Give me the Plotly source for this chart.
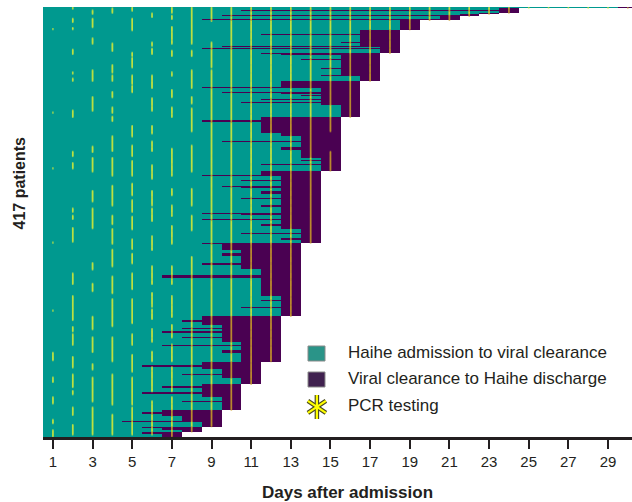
import plotly.graph_objects as go

# ---------------- data ----------------
# patients grouped by Haihe discharge day, top to bottom
discharge_day = [30, 24, 23, 22, 21, 19, 18, 17, 16, 15, 14, 13, 12, 11, 10, 9, 8, 7]
# for each discharge group: runs of (viral clearance day, number of patients), top to bottom
clearance_runs = [
    [(29, 1)],
    [(23, 2), (10, 1), (23, 2)],
    [(22, 1)],
    [(21, 1), (9, 1)],
    [(20, 3), (8, 1)],
    [(18, 9)],
    [(16, 4), (11, 1), (16, 7), (15, 1), (16, 3), (9, 1), (17, 1), (8, 1), (17, 4)],
    [(11, 1), (12, 1), (15, 3), (13, 1), (15, 8), (14, 1), (15, 6), (14, 1), (16, 5)],
    [(12, 6), (8, 1), (14, 3), (9, 1), (12, 1), (14, 1), (13, 1), (14, 3), (11, 1), (14, 2),
     (10, 1), (14, 2), (15, 12)],
    [(11, 3), (8, 2), (11, 10), (12, 3), (13, 5), (9, 1), (13, 5), (12, 3), (13, 7), (14, 2),
     (13, 1), (14, 3), (11, 1), (14, 6)],
    [(11, 4), (8, 1), (12, 4), (10, 1), (12, 5), (9, 1), (10, 1), (12, 2), (11, 3), (12, 4),
     (10, 1), (12, 6), (11, 2), (12, 6), (8, 1), (10, 1), (12, 4), (8, 1), (12, 3), (11, 2),
     (12, 3), (13, 4), (10, 1), (13, 4), (12, 2), (13, 3)],
    [(8, 1), (9, 6), (10, 3), (9, 2), (10, 7), (8, 2), (10, 4), (11, 6), (6, 3), (11, 5),
     (11, 12), (12, 4), (11, 1), (12, 6), (10, 1), (12, 8)],
    [(8, 4), (7, 1), (8, 3), (9, 3), (7, 1), (9, 2), (6, 2), (9, 4), (7, 1), (9, 4), (10, 3),
     (6, 1), (10, 4), (9, 3), (10, 8)],
    [(8, 3), (5, 2), (8, 2), (9, 5), (7, 1), (9, 3), (10, 6)],
    [(8, 2), (6, 1), (8, 4), (5, 2), (8, 3), (9, 4), (7, 1), (9, 8)],
    [(6, 2), (5, 2), (6, 2), (7, 4), (4, 1), (8, 5)],
    [(5, 1), (6, 2), (7, 2)],
    [(5, 2), (6, 3)],
]

# PCR testing: for each day, ranges of patient rows (first, last) that were tested
pcr_days = list(range(1, 31))
pcr_rows = [
    [(21, 21), (102, 102), (156, 156), (228, 228), (294, 294), (335, 342), (359, 363),
     (378, 384), (400, 403), (410, 416)],
    [(0, 1), (11, 14), (20, 21), (41, 45), (63, 64), (69, 71), (100, 106), (140, 144),
     (151, 156), (195, 198), (202, 205), (214, 227), (258, 268), (280, 303), (310, 314),
     (317, 327), (339, 349), (356, 368), (372, 375), (388, 395), (405, 414)],
    [(3, 6), (11, 19), (30, 35), (61, 71), (87, 100), (135, 140), (146, 159), (178, 188),
     (195, 205), (206, 214), (248, 254), (268, 275), (300, 312), (320, 334), (346, 351),
     (359, 382), (388, 414)],
    [(1, 5), (35, 42), (56, 63), (66, 71), (82, 87), (97, 102), (106, 110), (125, 139),
     (146, 163), (173, 192), (202, 210), (215, 229), (235, 251), (261, 277), (283, 309),
     (320, 343), (356, 385), (395, 414)],
    [(0, 3), (11, 22), (44, 47), (49, 58), (66, 74), (76, 82), (115, 125), (134, 144),
     (149, 163), (171, 182), (187, 198), (203, 215), (225, 234), (239, 248), (258, 273),
     (283, 306), (317, 327), (337, 353), (359, 385), (388, 414)],
    [(6, 9), (34, 37), (40, 45), (66, 78), (88, 100), (115, 122), (130, 139), (153, 166),
     (178, 192), (195, 207), (222, 235), (251, 268), (277, 290), (293, 302), (312, 324),
     (334, 343), (349, 372), (382, 414)],
    [(0, 5), (8, 11), (19, 35), (42, 47), (63, 66), (80, 87), (97, 106), (137, 163),
     (176, 182), (192, 202), (212, 229), (251, 268), (280, 300), (308, 320), (327, 343),
     (349, 372), (378, 416)],
    [(0, 35), (42, 47), (61, 78), (87, 93), (98, 120), (134, 159), (176, 192), (202, 216),
     (242, 411)],
    [(0, 13), (34, 58), (61, 406)],
    [(0, 390)],
    [(0, 365)],
    [(0, 343)],
    [(0, 299)],
    [(0, 228)],
    [(0, 120), (140, 158)],
    [(0, 106)],
    [(0, 71)],
    [(0, 44)],
    [(0, 21)],
    [(0, 12)],
    [(0, 12)],
    [(0, 8)],
    [(0, 6)],
    [(0, 5)],
    [(0, 0)],
    [(0, 0)],
    [(0, 0)],
    [(0, 0)],
    [(0, 0)],
    [(0, 0)],
]

x_tick_labels = [str(d) for d in range(1, 30, 2)]

# ---------------- build per-patient table ----------------
pat_clear, pat_disc = [], []
for D, runs in zip(discharge_day, clearance_runs):
    for c, n in runs:
        pat_clear += [c] * n
        pat_disc += [D] * n
n_pat = len(pat_clear)
days = list(range(1, 31))

z = []
for c, D in zip(pat_clear, pat_disc):
    z.append([1 if d <= c else (2 if d <= D else None) for d in days])

# split PCR marks into those before / after viral clearance (only for colour)
pre_x, pre_y, post_x, post_y = [], [], [], []
for d, ranges in zip(pcr_days, pcr_rows):
    for a, b in ranges:
        for r in range(a, b + 1):
            if r < n_pat and d <= pat_disc[r]:
                if d <= pat_clear[r]:
                    pre_x.append(d); pre_y.append(r)
                else:
                    post_x.append(d); post_y.append(r)

TEAL = "#00998f"
PURPLE = "#4a0152"
INK = "#231f20"
FONT = "Liberation Sans, Arial, sans-serif"
PCR_PRE = "rgba(212,234,56,0.66)"
PCR_POST = "rgba(205,160,40,0.62)"

fig = go.Figure()
fig.add_trace(go.Heatmap(
    x=days, y=list(range(n_pat)), z=z, zmin=1, zmax=2,
    colorscale=[[0, TEAL], [0.5, TEAL], [0.5, PURPLE], [1, PURPLE]],
    showscale=False, zsmooth=False, hoverinfo="skip",
))
for xs, ys, col in [(pre_x, pre_y, PCR_PRE), (post_x, post_y, PCR_POST)]:
    fig.add_trace(go.Scatter(
        x=xs, y=ys, mode="markers", hoverinfo="skip",
        marker=dict(symbol="line-ns-open", size=1.6, color=col,
                    line=dict(width=1.6, color=col)),
    ))

# legend asterisk (overlay paper-like axes)
for w, col in [(4.5, "#4a4a20"), (2.2, "#ffff00")]:
    for sym in ["y-up-open", "y-down-open"]:
        fig.add_trace(go.Scatter(
            x=[0.465], y=[0.07], xaxis="x2", yaxis="y2", mode="markers",
            hoverinfo="skip",
            marker=dict(symbol=sym, size=15, color=col, line=dict(width=w, color=col)),
        ))

L, T, W, H = 43, 7, 589, 430
def px2paper(x, y):
    return (x - L) / W, (T + H - y) / H

shapes = []
for (y0, y1, col) in [(346, 361, "#2a9488"), (372, 387, "#40214f")]:
    x0p, y1p = px2paper(308, y0)
    x1p, y0p = px2paper(325, y1)
    shapes.append(dict(type="rect", xref="paper", yref="paper", x0=x0p, x1=x1p,
                       y0=y0p, y1=y1p, fillcolor=col,
                       line=dict(color="#8a8a8a", width=1)))

annotations = []
for txt, yy in [("Haihe admission to viral clearance", 352.7),
                ("Viral clearance to Haihe discharge", 378.3),
                ("PCR testing", 405)]:
    xp, yp = px2paper(345.5, yy)
    annotations.append(dict(text=txt, xref="paper", yref="paper", x=xp, y=yp,
                            xanchor="left", yanchor="middle", showarrow=False,
                            font=dict(family=FONT, size=17, color=INK)))
xp, yp = px2paper(18.5, 183)
annotations.append(dict(text="<b>417 patients</b>", xref="paper", yref="paper",
                        x=xp, y=yp, textangle=-90, showarrow=False,
                        xanchor="center", yanchor="middle",
                        font=dict(family=FONT, size=16, color=INK)))
xp, yp = px2paper(347, 492)
annotations.append(dict(text="<b>Days after admission</b>", xref="paper", yref="paper",
                        x=xp, y=yp, showarrow=False, xanchor="center", yanchor="middle",
                        font=dict(family=FONT, size=17, color=INK)))

fig.update_layout(
    width=632, height=502,
    margin=dict(l=L, r=632 - L - W, t=T, b=502 - T - H, autoexpand=False),
    paper_bgcolor="white", plot_bgcolor="white",
    showlegend=False,
    xaxis=dict(range=[0.5, 30.21], tickvals=list(range(1, 30, 2)), ticktext=x_tick_labels,
               ticks="outside", ticklen=9, tickwidth=2, tickcolor=INK,
               showline=True, linewidth=2.5, linecolor=INK, showgrid=False,
               zeroline=False, tickfont=dict(family=FONT, size=15, color=INK),
               automargin=False),
    yaxis=dict(range=[n_pat - 0.5, -0.5], visible=False, showgrid=False),
    xaxis2=dict(range=[0, 1], overlaying="x", visible=False),
    yaxis2=dict(range=[0, 1], overlaying="y", visible=False),
    shapes=shapes, annotations=annotations,
)

fig.write_html("out.html", config={"displayModeBar": False},
               post_script="document.body.style.margin='0';document.body.style.overflow='hidden';")
